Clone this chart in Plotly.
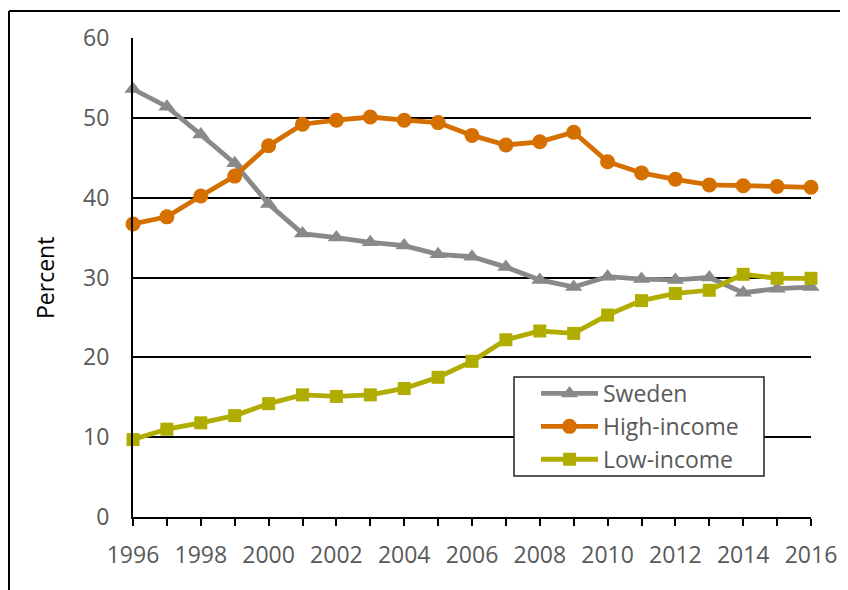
import plotly.graph_objects as go

years = list(range(1996, 2017))
sweden = [53.6, 51.4, 47.9, 44.3, 39.2, 35.5, 35.0, 34.4, 34.0, 32.9, 32.6, 31.3,
          29.7, 28.8, 30.1, 29.8, 29.7, 30.0, 28.1, 28.6, 28.8]
high_income = [36.7, 37.6, 40.2, 42.7, 46.5, 49.2, 49.7, 50.1, 49.7, 49.4, 47.8, 46.6,
               47.0, 48.2, 44.5, 43.1, 42.3, 41.6, 41.5, 41.4, 41.3]
low_income = [9.7, 11.0, 11.8, 12.7, 14.2, 15.3, 15.1, 15.3, 16.1, 17.5, 19.5, 22.2,
              23.3, 23.0, 25.3, 27.1, 28.0, 28.4, 30.4, 29.9, 29.9]
x_tick_labels = [str(y) if y % 2 == 0 else "" for y in years]
y_ticks = [0, 10, 20, 30, 40, 50, 60]

# page body has an 8px margin; figure is placed at (8, 8)
OFF = 8
W, H = 848 - OFF, 590 - OFF
L, R, T, B = 133 - OFF, 811 - OFF, 38 - OFF, 517 - OFF
pw, ph = R - L, B - T


def px(x):
    return (x - OFF - L) / pw


def py(y):
    return (B - (y - OFF)) / ph


FONT = "Open Sans, Calibri, Carlito, sans-serif"
TICK_COLOR = "#595959"
FS = 23

fig = go.Figure()
series = [
    ("Sweden", sweden, "#898989", "triangle-up", 15),
    ("High-income", high_income, "#D46F00", "circle", 15),
    ("Low-income", low_income, "#B0AD00", "square", 13),
]
for name, vals, color, sym, size in series:
    fig.add_trace(go.Scatter(
        x=years, y=vals, name=name, mode="lines+markers",
        line=dict(color=color, width=4.8),
        marker=dict(symbol=sym, size=size, color=color),
        cliponaxis=False,
    ))

fig.update_layout(
    width=W, height=H,
    margin=dict(l=L, r=W - R, t=T, b=H - B, pad=0),
    paper_bgcolor="white", plot_bgcolor="white",
    font=dict(family=FONT, size=FS, color=TICK_COLOR),
    showlegend=True,
    legend=dict(
        x=px(536), y=py(372), xanchor="left", yanchor="top",
        bgcolor="rgba(0,0,0,0)", borderwidth=0,
        itemwidth=57, font=dict(family=FONT, size=FS, color=TICK_COLOR),
        tracegroupgap=0,
    ),
    xaxis=dict(
        range=[1996, 2016], tickmode="array", tickvals=years, ticktext=x_tick_labels,
        ticks="outside", ticklen=7, tickwidth=2, tickcolor="black",
        showline=True, linecolor="black", linewidth=2,
        showgrid=False, zeroline=False,
        tickfont=dict(family=FONT, size=FS, color=TICK_COLOR),
        ticklabelstandoff=9,
    ),
    yaxis=dict(
        range=[0, 60], tickmode="array", tickvals=y_ticks,
        ticks="", showline=True, linecolor="black", linewidth=2,
        showgrid=True, gridcolor="black", gridwidth=2,
        zeroline=False,
        tickfont=dict(family=FONT, size=FS, color=TICK_COLOR),
        ticklabelstandoff=17,
    ),
)

# outer chart border (top and left edges visible in the crop)
fig.add_shape(type="line", xref="paper", yref="paper",
              x0=px(9), y0=py(600), x1=px(9), y1=py(11),
              line=dict(color="black", width=2))
fig.add_shape(type="line", xref="paper", yref="paper",
              x0=px(9), y0=py(11), x1=px(860), y1=py(11),
              line=dict(color="black", width=2))

# legend box
fig.add_shape(type="rect", xref="paper", yref="paper",
              x0=px(514), y0=py(377), x1=px(764), y1=py(476),
              line=dict(color="#222222", width=1.5), fillcolor="white", layer="above")

fig.add_annotation(text="Percent", textangle=-90, xref="paper", yref="paper",
                   x=px(45), y=py(278), xanchor="center", yanchor="middle",
                   showarrow=False, font=dict(family=FONT, size=FS, color="black"))

fig.write_html("out.html")
